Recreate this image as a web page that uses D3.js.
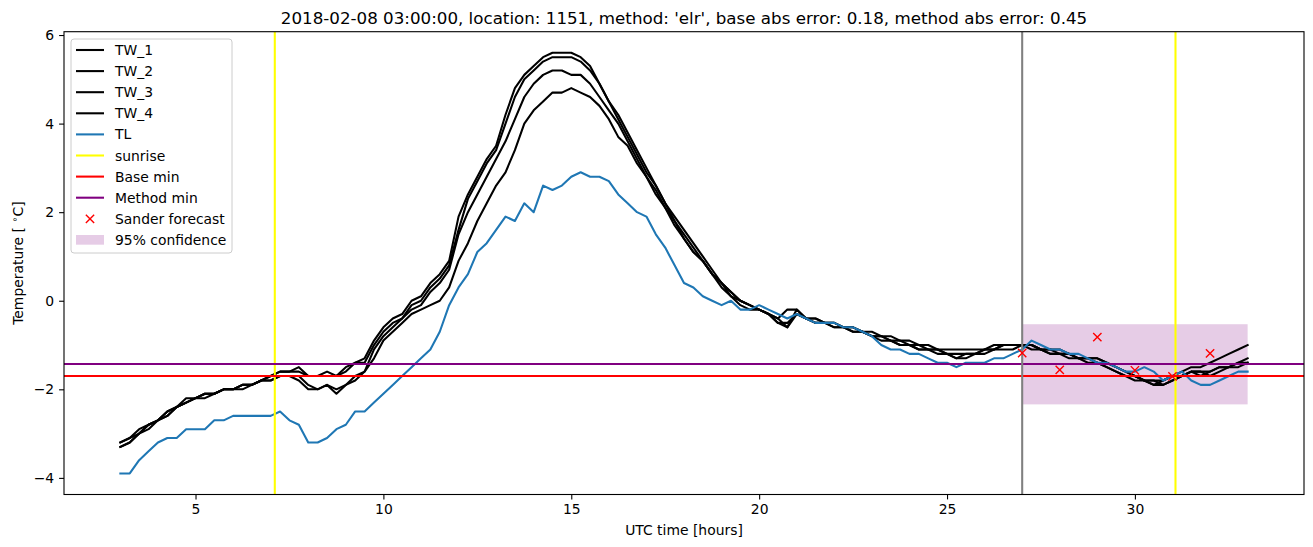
<!DOCTYPE html>
<html>
<head>
<meta charset="utf-8">
<script src="https://cdn.jsdelivr.net/npm/d3@7"></script>
<style>
  html, body { margin: 0; padding: 0; background: #fff; }
  svg { display: block; font-family: "DejaVu Sans", sans-serif; }
</style>
</head>
<body>
<svg id="chart" width="1313" height="547"></svg>
<script>
// ---------------- data ----------------
const titleText = "2018-02-08 03:00:00, location: 1151, method: 'elr', base abs error: 0.18, method abs error: 0.45";
const startHour = 3, stepHours = 0.25;

const TW_1 = [-3.2,-3.1,-2.9,-2.8,-2.7,-2.5,-2.4,-2.2,-2.2,-2.1,-2.1,-2.0,-2.0,-1.9,-1.9,-1.8,-1.7,-1.6,-1.6,-1.5,
  -1.7,-1.7,-1.6,-1.7,-1.5,-1.4,-1.3,-0.9,-0.6,-0.4,-0.3,0.0,0.1,0.4,0.6,0.9,1.9,2.4,2.8,3.2,
  3.5,4.2,4.8,5.1,5.3,5.5,5.6,5.6,5.6,5.5,5.3,4.9,4.5,4.2,3.8,3.4,3.0,2.6,2.2,1.9,
  1.6,1.3,1.0,0.7,0.4,0.2,0.0,-0.1,-0.2,-0.3,-0.4,-0.2,-0.2,-0.4,-0.5,-0.5,-0.5,-0.6,-0.6,-0.7,
  -0.7,-0.8,-0.8,-0.9,-0.9,-1.0,-1.0,-1.1,-1.1,-1.1,-1.1,-1.1,-1.1,-1.0,-1.0,-1.0,-1.0,-1.0,-1.1,-1.1,
  -1.1,-1.2,-1.3,-1.3,-1.3,-1.4,-1.5,-1.6,-1.7,-1.8,-1.8,-1.8,-1.7,-1.6,-1.5,-1.5,-1.4,-1.3,-1.2,-1.1,-1.0];
const TW_2 = [-3.2,-3.1,-3.0,-2.8,-2.7,-2.6,-2.4,-2.3,-2.2,-2.1,-2.1,-2.0,-2.0,-1.9,-1.9,-1.8,-1.7,-1.6,-1.6,-1.6,
  -1.7,-1.7,-1.7,-1.7,-1.6,-1.4,-1.4,-1.0,-0.7,-0.5,-0.4,-0.1,0.0,0.3,0.5,0.8,1.6,2.3,2.7,3.1,
  3.4,4.0,4.6,5.0,5.2,5.4,5.5,5.5,5.5,5.4,5.2,4.9,4.5,4.1,3.7,3.3,2.9,2.6,2.2,1.8,
  1.5,1.2,0.9,0.6,0.4,0.1,0.0,-0.1,-0.2,-0.3,-0.5,-0.6,-0.2,-0.4,-0.4,-0.5,-0.6,-0.6,-0.7,-0.7,
  -0.8,-0.8,-0.9,-0.9,-1.0,-1.0,-1.1,-1.1,-1.2,-1.2,-1.2,-1.2,-1.1,-1.1,-1.0,-1.0,-1.0,-1.1,-1.1,-1.2,
  -1.2,-1.2,-1.3,-1.4,-1.4,-1.5,-1.6,-1.7,-1.8,-1.8,-1.9,-1.8,-1.7,-1.7,-1.6,-1.6,-1.6,-1.5,-1.5,-1.4,-1.3];
const TW_3 = [-3.3,-3.2,-3.0,-2.9,-2.7,-2.6,-2.4,-2.3,-2.2,-2.2,-2.1,-2.0,-2.0,-2.0,-1.9,-1.8,-1.8,-1.7,-1.7,-1.7,
  -1.9,-2.0,-1.9,-2.0,-1.9,-1.7,-1.6,-1.1,-0.8,-0.6,-0.4,-0.2,-0.1,0.2,0.4,0.7,1.5,2.0,2.4,2.8,
  3.2,3.6,4.1,4.6,4.9,5.1,5.2,5.2,5.1,5.1,4.9,4.6,4.3,4.0,3.6,3.2,2.8,2.5,2.1,1.8,
  1.4,1.1,0.9,0.6,0.3,0.1,-0.1,-0.2,-0.2,-0.3,-0.5,-0.5,-0.3,-0.4,-0.5,-0.5,-0.6,-0.6,-0.7,-0.7,
  -0.8,-0.9,-0.9,-1.0,-1.0,-1.1,-1.1,-1.2,-1.2,-1.3,-1.3,-1.2,-1.2,-1.1,-1.1,-1.1,-1.0,-1.0,-1.1,-1.2,
  -1.2,-1.3,-1.3,-1.3,-1.4,-1.5,-1.6,-1.7,-1.7,-1.8,-1.9,-1.9,-1.8,-1.7,-1.6,-1.7,-1.6,-1.5,-1.5,-1.4,-1.4];
const TW_4 = [-3.3,-3.2,-3.0,-2.8,-2.7,-2.5,-2.4,-2.3,-2.2,-2.1,-2.1,-2.0,-2.0,-1.9,-1.9,-1.8,-1.8,-1.7,-1.7,-1.8,
  -2.0,-2.0,-1.9,-2.1,-1.9,-1.8,-1.6,-1.3,-0.9,-0.7,-0.5,-0.3,-0.2,-0.1,0.0,0.3,0.9,1.3,1.8,2.2,
  2.6,2.9,3.4,4.0,4.3,4.5,4.7,4.7,4.8,4.7,4.6,4.4,4.1,3.7,3.5,3.1,2.8,2.4,2.1,1.7,
  1.4,1.1,0.9,0.6,0.4,0.2,0.0,-0.1,-0.2,-0.3,-0.4,-0.6,-0.3,-0.4,-0.4,-0.5,-0.5,-0.6,-0.6,-0.7,
  -0.8,-0.8,-0.9,-1.0,-1.0,-1.1,-1.1,-1.1,-1.2,-1.3,-1.2,-1.2,-1.1,-1.1,-1.0,-1.0,-1.0,-1.0,-1.1,-1.1,
  -1.2,-1.2,-1.3,-1.3,-1.3,-1.4,-1.5,-1.6,-1.7,-1.8,-1.8,-1.9,-1.8,-1.7,-1.6,-1.6,-1.7,-1.6,-1.5,-1.5,-1.4];
const TL = [-3.9,-3.9,-3.6,-3.4,-3.2,-3.1,-3.1,-2.9,-2.9,-2.9,-2.7,-2.7,-2.6,-2.6,-2.6,-2.6,-2.6,-2.5,-2.7,-2.8,
  -3.2,-3.2,-3.1,-2.9,-2.8,-2.5,-2.5,-2.3,-2.1,-1.9,-1.7,-1.5,-1.3,-1.1,-0.7,-0.1,0.3,0.6,1.1,1.3,
  1.6,1.9,1.8,2.2,2.0,2.6,2.5,2.6,2.8,2.9,2.8,2.8,2.7,2.4,2.2,2.0,1.9,1.5,1.2,0.8,
  0.4,0.3,0.1,0.0,-0.1,0.0,-0.2,-0.2,-0.1,-0.2,-0.3,-0.4,-0.3,-0.4,-0.5,-0.5,-0.5,-0.6,-0.6,-0.7,
  -0.8,-1.0,-1.1,-1.1,-1.2,-1.2,-1.3,-1.4,-1.4,-1.5,-1.4,-1.4,-1.4,-1.3,-1.3,-1.2,-1.1,-0.9,-1.0,-1.1,
  -1.1,-1.2,-1.2,-1.3,-1.4,-1.4,-1.5,-1.6,-1.6,-1.5,-1.6,-1.8,-1.7,-1.6,-1.8,-1.9,-1.9,-1.8,-1.7,-1.6,-1.6];

const sunriseHours = [7.11, 31.08];
const forecastStartHour = 27;
const baseMin = -1.70;
const methodMin = -1.43;
const sanderHours = [27, 28, 29, 30, 31, 32];
const sanderValues = [-1.18, -1.56, -0.82, -1.57, -1.71, -1.19];
const confHours = [27, 33];
const confLow = -2.34, confHigh = -0.53;

const xTicks = [5, 10, 15, 20, 25, 30];
const yTicks = [-4, -2, 0, 2, 4, 6];
const legendLabels = ["TW_1","TW_2","TW_3","TW_4","TL","sunrise","Base min","Method min","Sander forecast","95% confidence"];

// ---------------- drawing ----------------
const svg = d3.select("#chart");
const L = 64, R = 1304, T = 31.7, B = 494.5;
const x = d3.scaleLinear().domain([1.5, 34.5]).range([L, R]);
const y = d3.scaleLinear().domain([-4.375, 6.075]).range([B, T]);

const hoursOf = i => startHour + i * stepHours;
const toPts = arr => arr.map((v, i) => [hoursOf(i), v]);
const line = d3.line().x(d => x(d[0])).y(d => y(d[1]));

svg.append("defs").append("clipPath").attr("id", "clip")
  .append("rect").attr("x", L).attr("y", T).attr("width", R - L).attr("height", B - T);
const plot = svg.append("g").attr("clip-path", "url(#clip)");

const lw = 2.08;

// confidence span (patch, below lines)
plot.append("rect").attr("x", x(confHours[0])).attr("y", y(confHigh))
  .attr("width", x(confHours[1]) - x(confHours[0])).attr("height", y(confLow) - y(confHigh))
  .attr("fill", "#800080").attr("fill-opacity", 0.2);

[TW_1, TW_2, TW_3, TW_4].forEach(s => {
  plot.append("path").attr("d", line(toPts(s))).attr("fill", "none")
    .attr("stroke", "#000").attr("stroke-width", lw).attr("stroke-linejoin", "round").attr("stroke-linecap", "square");
});
plot.append("path").attr("d", line(toPts(TL))).attr("fill", "none")
  .attr("stroke", "#1f77b4").attr("stroke-width", lw).attr("stroke-linejoin", "round").attr("stroke-linecap", "square");

sunriseHours.forEach(h => {
  plot.append("line").attr("x1", x(h)).attr("x2", x(h)).attr("y1", T).attr("y2", B)
    .attr("stroke", "#ffff00").attr("stroke-width", lw);
});
plot.append("line").attr("x1", L).attr("x2", R).attr("y1", y(baseMin)).attr("y2", y(baseMin))
  .attr("stroke", "#ff0000").attr("stroke-width", lw);
plot.append("line").attr("x1", L).attr("x2", R).attr("y1", y(methodMin)).attr("y2", y(methodMin))
  .attr("stroke", "#800080").attr("stroke-width", lw);

plot.append("line").attr("x1", x(forecastStartHour)).attr("x2", x(forecastStartHour)).attr("y1", T).attr("y2", B)
  .attr("stroke", "#808080").attr("stroke-width", lw);

const ms = 4.15;
sanderHours.forEach((h, i) => {
  const cx = x(h), cy = y(sanderValues[i]);
  plot.append("path").attr("d", `M${cx-ms},${cy-ms}L${cx+ms},${cy+ms}M${cx-ms},${cy+ms}L${cx+ms},${cy-ms}`)
    .attr("stroke", "#ff0000").attr("stroke-width", 1.4).attr("fill", "none");
});

// axes
const xAxis = svg.append("g").attr("transform", `translate(0,${B})`)
  .call(d3.axisBottom(x).tickValues(xTicks).tickSize(4.9).tickPadding(4.9).tickFormat(d3.format("d")));
const yAxis = svg.append("g").attr("transform", `translate(${L},0)`)
  .call(d3.axisLeft(y).tickValues(yTicks).tickSize(4.9).tickPadding(4.9).tickFormat(d => d < 0 ? "\u2212" + Math.abs(d) : d));
[xAxis, yAxis].forEach(a => {
  a.select(".domain").remove();
  a.selectAll("line").attr("stroke", "#000").attr("stroke-width", 1.1);
  a.selectAll("text").attr("font-family", "DejaVu Sans").attr("font-size", "13.9px").attr("fill", "#000");
});
svg.append("rect").attr("x", L).attr("y", T).attr("width", R - L).attr("height", B - T)
  .attr("fill", "none").attr("stroke", "#000").attr("stroke-width", 1.1);

// title and labels
svg.append("text").attr("x", (L + R) / 2).attr("y", 23.5).attr("text-anchor", "middle")
  .attr("font-size", "16.7px").attr("fill", "#000").text(titleText);
svg.append("text").attr("x", (L + R) / 2).attr("y", 535).attr("text-anchor", "middle")
  .attr("font-size", "13.9px").attr("fill", "#000").text("UTC time [hours]");
const yl = svg.append("text").attr("transform", `translate(23,${(T + B) / 2}) rotate(-90)`)
  .attr("text-anchor", "middle").attr("font-size", "13.9px").attr("fill", "#000");
yl.append("tspan").text("Temperature [ ");
yl.append("tspan").attr("font-size", "9.7px").attr("dy", "-5").text("\u2218");
yl.append("tspan").attr("dy", "5").text("C]");

// legend
const lg = svg.append("g");
lg.append("rect").attr("x", 71).attr("y", 39).attr("width", 161).attr("height", 214).attr("rx", 3)
  .attr("fill", "#fff").attr("fill-opacity", 0.8).attr("stroke", "#cccccc").attr("stroke-width", 1);
const legendColors = ["#000","#000","#000","#000","#1f77b4","#ffff00","#ff0000","#800080",null,null];
legendLabels.forEach((lab, i) => {
  const cy = 50 + i * 21.1;
  if (i < 8) {
    lg.append("line").attr("x1", 76).attr("x2", 104).attr("y1", cy).attr("y2", cy)
      .attr("stroke", legendColors[i]).attr("stroke-width", lw);
  } else if (i === 8) {
    const cx = 90;
    lg.append("path").attr("d", `M${cx-ms},${cy-ms}L${cx+ms},${cy+ms}M${cx-ms},${cy+ms}L${cx+ms},${cy-ms}`)
      .attr("stroke", "#ff0000").attr("stroke-width", 1.4);
  } else {
    lg.append("rect").attr("x", 76).attr("y", cy - 4.9).attr("width", 28).attr("height", 9.7)
      .attr("fill", "#800080").attr("fill-opacity", 0.2);
  }
  lg.append("text").attr("x", 115).attr("y", cy + 5).attr("font-size", "13.9px").attr("fill", "#000").text(lab);
});
</script>
</body>
</html>
